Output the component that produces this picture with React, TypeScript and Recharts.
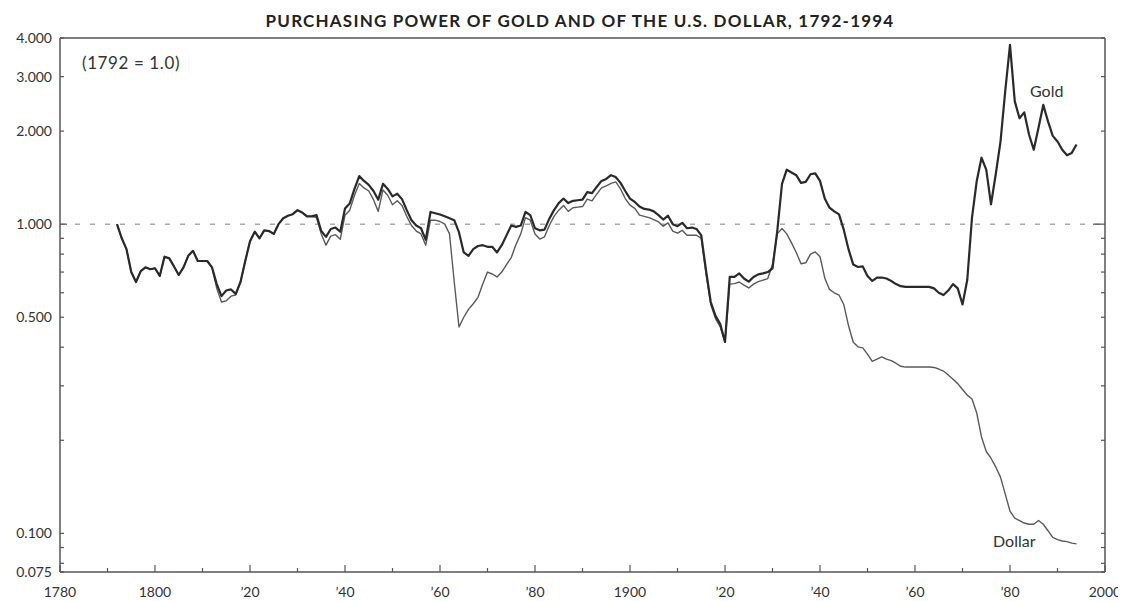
import { LineChart, Line, XAxis, YAxis, ReferenceLine } from 'recharts'

const goldValues = [
  1.0, 0.9, 0.83, 0.7, 0.65, 0.705, 0.725, 0.715,
  0.72, 0.68, 0.785, 0.775, 0.73, 0.685, 0.725, 0.79, 0.82, 0.76,
  0.76, 0.76, 0.725, 0.64, 0.585, 0.61, 0.615, 0.595, 0.65, 0.76,
  0.88, 0.945, 0.9, 0.955, 0.95, 0.93, 1.0, 1.045, 1.065, 1.077,
  1.11, 1.09, 1.06, 1.06, 1.07, 0.95, 0.91, 0.965, 0.975, 0.945,
  1.124, 1.167, 1.3, 1.43, 1.38, 1.34, 1.28, 1.2, 1.35, 1.3,
  1.23, 1.255, 1.205, 1.11, 1.03, 0.99, 0.97, 0.89, 1.095, 1.085,
  1.075, 1.06, 1.045, 1.03, 0.94, 0.81, 0.79, 0.83, 0.85, 0.855,
  0.845, 0.845, 0.81, 0.855, 0.92, 0.99, 0.98, 0.99, 1.095, 1.07,
  0.97, 0.955, 0.96, 1.04, 1.11, 1.17, 1.21, 1.17, 1.19, 1.195,
  1.2, 1.27, 1.26, 1.32, 1.38, 1.4, 1.44, 1.42, 1.36, 1.28,
  1.21, 1.18, 1.14, 1.12, 1.115, 1.1, 1.07, 1.035, 1.065, 1.0,
  0.985, 1.01, 0.97, 0.975, 0.965, 0.92, 0.71, 0.56, 0.505, 0.475,
  0.416, 0.675, 0.675, 0.693, 0.667, 0.652, 0.675, 0.688, 0.693, 0.7,
  0.72, 0.95, 1.35, 1.5, 1.47, 1.44, 1.36, 1.37, 1.45, 1.46,
  1.38, 1.21, 1.13, 1.1, 1.075, 0.96, 0.83, 0.74, 0.727, 0.73,
  0.68, 0.655, 0.672, 0.672, 0.667, 0.655, 0.64, 0.63, 0.627, 0.627,
  0.627, 0.627, 0.627, 0.627, 0.62, 0.6, 0.59, 0.61, 0.64, 0.62,
  0.55, 0.66, 1.05, 1.38, 1.64, 1.5, 1.16, 1.45, 1.85, 2.7,
  3.8, 2.5, 2.2, 2.3, 1.95, 1.74, 2.05, 2.43, 2.15, 1.93,
  1.85, 1.74, 1.67, 1.7, 1.81,
]

const dollarValues = [
  1.0, 0.9, 0.83, 0.7, 0.65, 0.705, 0.725, 0.715,
  0.72, 0.68, 0.785, 0.775, 0.73, 0.685, 0.725, 0.79, 0.82, 0.76,
  0.76, 0.76, 0.725, 0.62, 0.56, 0.565, 0.585, 0.59, 0.65, 0.76,
  0.88, 0.945, 0.9, 0.955, 0.95, 0.93, 1.0, 1.045, 1.065, 1.077,
  1.11, 1.09, 1.06, 1.06, 1.05, 0.93, 0.855, 0.915, 0.925, 0.893,
  1.069, 1.11, 1.24, 1.354, 1.31, 1.28, 1.2, 1.1, 1.29, 1.24,
  1.155, 1.19, 1.15, 1.06, 0.99, 0.95, 0.93, 0.855, 1.03, 1.03,
  1.02, 1.0, 0.93, 0.65, 0.465, 0.5, 0.53, 0.553, 0.58, 0.64,
  0.7, 0.69, 0.675, 0.7, 0.74, 0.78, 0.86, 0.93, 1.05, 1.03,
  0.93, 0.895, 0.91, 0.99, 1.06, 1.11, 1.15, 1.1, 1.13, 1.135,
  1.14, 1.205, 1.19, 1.25, 1.31, 1.33, 1.355, 1.37, 1.3, 1.21,
  1.152, 1.125, 1.07, 1.06, 1.05, 1.035, 1.017, 0.985, 1.01, 0.95,
  0.935, 0.955, 0.921, 0.921, 0.921, 0.9, 0.69, 0.55, 0.495, 0.465,
  0.416, 0.64, 0.642, 0.65, 0.635, 0.622, 0.64, 0.652, 0.659, 0.667,
  0.74, 0.93, 0.968, 0.93, 0.87, 0.81, 0.745, 0.75, 0.8, 0.813,
  0.785, 0.67, 0.615, 0.6, 0.59, 0.55, 0.47, 0.415, 0.401, 0.398,
  0.38, 0.36, 0.366, 0.372, 0.366, 0.362, 0.355, 0.347, 0.345, 0.345,
  0.345, 0.345, 0.345, 0.345, 0.344, 0.34, 0.335, 0.325, 0.315, 0.305,
  0.292, 0.28, 0.272, 0.245, 0.205, 0.184, 0.175, 0.164, 0.152, 0.134,
  0.118, 0.112, 0.11, 0.108, 0.107, 0.107, 0.11, 0.107, 0.102, 0.097,
  0.0955, 0.0945, 0.094, 0.093, 0.0925,
]

const firstYear = 1792
const years = goldValues.map((_, i) => firstYear + i)

const xTicks = [
  1780, 1790, 1800, 1810, 1820, 1830, 1840, 1850, 1860, 1870, 1880, 1890,
  1900, 1910, 1920, 1930, 1940, 1950, 1960, 1970, 1980, 1990, 2000,
]
const xTickLabels: Record<number, string> = {
  1780: '1780',
  1800: '1800',
  1820: '\u201920',
  1840: '\u201940',
  1860: '\u201960',
  1880: '\u201980',
  1900: '1900',
  1920: '\u201920',
  1940: '\u201940',
  1960: '\u201960',
  1980: '\u201980',
  2000: '2000',
}

const yTicks = [0.075, 0.08, 0.09, 0.1, 0.2, 0.3, 0.4, 0.5, 0.6, 0.7, 0.8, 0.9, 1, 2, 3, 4]
const yTickLabels: Record<number, string> = {
  4: '4.000',
  3: '3.000',
  2: '2.000',
  1: '1.000',
  0.5: '0.500',
  0.1: '0.100',
  0.075: '0.075',
}

const data = years.map((year, i) => ({
  year,
  gold: goldValues[i],
  dollar: dollarValues[i],
}))

const font = "Lato, 'Open Sans', sans-serif"
const ink = '#333'
const axisColor = '#555'

const LeftTick = ({ x, y, payload }: any) => {
  const label = yTickLabels[payload.value]
  return (
    <g>
      <line x1={x} x2={x + (payload.value === 1 ? 7 : 4)} y1={y} y2={y} stroke={axisColor} strokeWidth={1.2} />
      {label && (
        <text x={x - 8} y={y} dy="0.35em" textAnchor="end" fontSize={14} fill={ink} fontFamily={font}>
          {label}
        </text>
      )}
    </g>
  )
}

const RightTick = ({ x, y, payload }: any) => (
  <line x1={x} x2={x - (payload.value === 1 ? 12 : 4)} y1={y} y2={y} stroke={axisColor} strokeWidth={1.2} />
)

const BottomTick = ({ x, y, payload }: any) => {
  const label = xTickLabels[payload.value]
  return (
    <g>
      <line x1={x} x2={x} y1={y} y2={y - (label ? 7 : 4)} stroke={axisColor} strokeWidth={1.2} />
      {label && (
        <text x={x} y={y + 25} textAnchor="middle" fontSize={14} fill={ink} fontFamily={font}>
          {label}
        </text>
      )}
    </g>
  )
}

export default function App() {
  return (
    <div style={{ position: 'relative', width: 1118, height: 593, fontFamily: font, color: ink }}>
      <div
        style={{
          position: 'absolute',
          left: 572,
          top: 5,
          transform: 'translateX(-50%)',
          whiteSpace: 'nowrap',
          fontSize: 17,
          lineHeight: '16px',
          letterSpacing: 1.2,
          fontWeight: 700,
          color: '#222',
        }}
      >
        PURCHASING POWER OF GOLD AND OF THE U.S. DOLLAR, 1792-1994
      </div>
      <div style={{ position: 'absolute', left: 74, top: 47, fontSize: 17, lineHeight: '16px', letterSpacing: 0.6 }}>
        (1792 = 1.0)
      </div>
      <div style={{ position: 'absolute', left: 1022, top: 75, fontSize: 16, lineHeight: '16px' }}>Gold</div>
      <div style={{ position: 'absolute', left: 985, top: 525, fontSize: 16, lineHeight: '16px' }}>Dollar</div>

      <LineChart width={1118} height={593} data={data} margin={{ top: 30, right: 0, left: 0, bottom: 4 }}>
        <XAxis
          dataKey="year"
          type="number"
          domain={[1780, 2000]}
          ticks={xTicks}
          interval={0}
          height={25}
          tickSize={0}
          tickMargin={0}
          tickLine={false}
          tick={<BottomTick />}
          axisLine={{ stroke: axisColor, strokeWidth: 1.5 }}
          allowDataOverflow
        />
        <YAxis
          yAxisId="left"
          scale="log"
          domain={[0.075, 4]}
          ticks={yTicks}
          interval={0}
          width={52}
          tickSize={0}
          tickMargin={0}
          tickLine={false}
          tick={<LeftTick />}
          axisLine={{ stroke: axisColor, strokeWidth: 1.5 }}
          allowDataOverflow
        />
        <YAxis
          yAxisId="right"
          orientation="right"
          scale="log"
          domain={[0.075, 4]}
          ticks={yTicks}
          interval={0}
          width={21}
          tickSize={0}
          tickMargin={0}
          tickLine={false}
          tick={<RightTick />}
          axisLine={{ stroke: axisColor, strokeWidth: 1.5 }}
          allowDataOverflow
        />
        <ReferenceLine yAxisId="left" y={4} stroke={axisColor} strokeWidth={1.5} />
        <ReferenceLine yAxisId="left" y={1} stroke="#aaa" strokeWidth={1.5} strokeDasharray="5 10" />
        <Line
          yAxisId="right"
          type="linear"
          dataKey="dollar"
          stroke="#5a5a5a"
          strokeWidth={1.4}
          strokeLinejoin="round"
          dot={false}
          isAnimationActive={false}
        />
        <Line
          yAxisId="left"
          type="linear"
          dataKey="gold"
          stroke="#2a2a2a"
          strokeWidth={2.2}
          strokeLinejoin="round"
          dot={false}
          isAnimationActive={false}
        />
      </LineChart>
    </div>
  )
}
